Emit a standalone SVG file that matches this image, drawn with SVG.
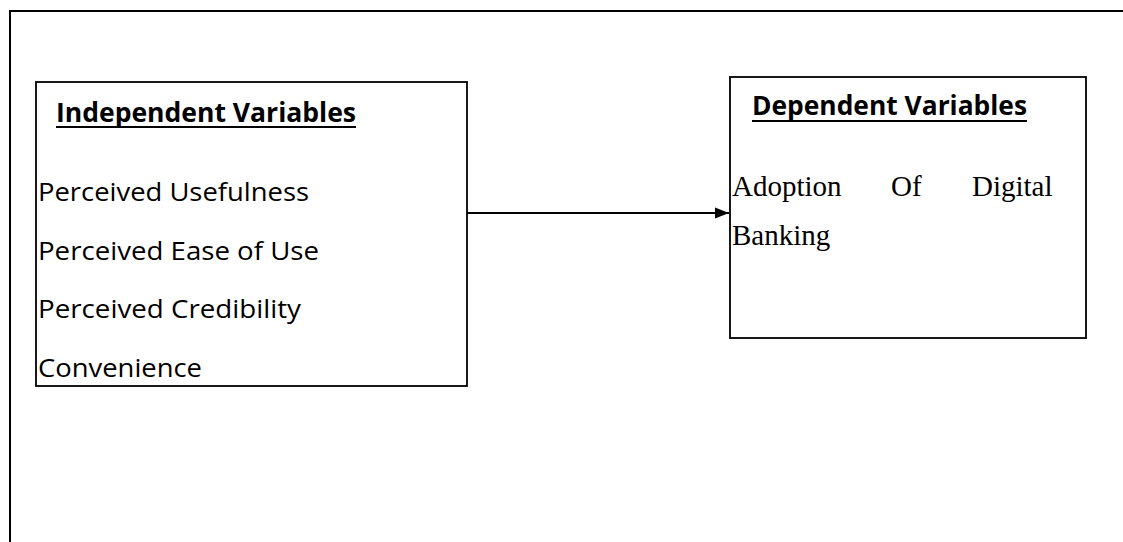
<svg xmlns="http://www.w3.org/2000/svg" width="1123" height="542" viewBox="0 0 1123 542">
<style>
.box{fill:#fff;stroke:#000;stroke-width:1.8}
.hdr{font-family:"Open Sans","Liberation Sans",sans-serif;font-weight:bold;font-size:26px;fill:#000}
.ul{stroke:#000;stroke-width:2}
.item{font-family:"Open Sans","Liberation Sans",sans-serif;font-size:26px;fill:#000}
.serif{font-family:"Liberation Serif","Times New Roman",serif;font-size:29px;fill:#000}
.conn{stroke:#000;stroke-width:1.8;fill:none}
</style>
<defs>
<marker id="arr" markerWidth="14" markerHeight="12" refX="14" refY="6" orient="auto" markerUnits="userSpaceOnUse">
<path d="M0,0.5 L14,6 L0,11.5 Z" fill="#000"/>
</marker>
</defs>
<rect width="1123" height="542" fill="#fff"/>
<g id="frame">
<rect x="10" y="11" width="1130" height="560" fill="none" stroke="#000" stroke-width="2"/>
</g>
<g id="independent">
<rect class="box" x="36" y="82" width="431" height="304"/>
<text class="hdr" x="56" y="122" textLength="300" lengthAdjust="spacingAndGlyphs">Independent Variables</text>
<line class="ul" x1="56" y1="127" x2="356" y2="127"/>
<text class="item" x="38" y="201" textLength="271" lengthAdjust="spacingAndGlyphs">Perceived Usefulness</text>
<text class="item" x="38" y="260" textLength="281" lengthAdjust="spacingAndGlyphs">Perceived Ease of Use</text>
<text class="item" x="38" y="318" textLength="263" lengthAdjust="spacingAndGlyphs">Perceived Credibility</text>
<text class="item" x="38" y="377" textLength="164" lengthAdjust="spacingAndGlyphs">Convenience</text>
</g>
<g id="dependent">
<rect class="box" x="730" y="77" width="356" height="261"/>
<text class="hdr" x="752" y="115" textLength="275" lengthAdjust="spacingAndGlyphs">Dependent Variables</text>
<line class="ul" x1="752" y1="121" x2="1027" y2="121"/>
<text class="serif" y="196"><tspan x="732">Adoption</tspan><tspan x="891">Of</tspan><tspan x="972">Digital</tspan></text>
<text class="serif" x="732" y="245">Banking</text>
</g>
<g id="connectors">
<line class="conn" x1="467" y1="213" x2="729" y2="213" marker-end="url(#arr)"/>
</g>
</svg>
